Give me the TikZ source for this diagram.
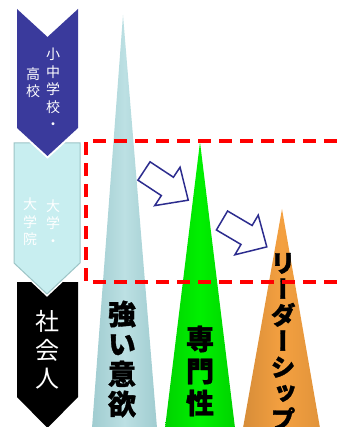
\documentclass[tikz,border=0pt]{standalone}
\usepackage{fontspec}
\usepackage{graphicx}
\newfontfamily\jpv[RawFeature=+vert]{Noto Sans CJK JP}
\newfontfamily\jpb[RawFeature=+vert, BoldFeatures={FakeBold=1.2}]{Noto Sans CJK JP}
\definecolor{chevblue}{HTML}{3A3A9C}
\definecolor{chevcyan}{HTML}{C8EEF0}
\definecolor{chevedge}{HTML}{9CC4C6}
\definecolor{spire}{HTML}{BCE0E3}
\definecolor{spireedge}{HTML}{A0CCD0}
\definecolor{greenspire}{HTML}{00F000}
\definecolor{orangespire}{HTML}{F4A040}
\definecolor{arrowblue}{HTML}{2C2C8E}
\definecolor{dashred}{HTML}{FF0000}
\begin{document}
\begin{tikzpicture}[x=1pt,y=-1pt,
  chevtext/.style={text=white, inner sep=0, align=center, font=\jpv\fontsize{14}{17.5}\selectfont},
  bigtext/.style={text=black, inner sep=0, align=center},
  blockarrow/.style={draw=arrowblue, fill=white, line width=1.5, line join=miter},
  redbox/.style={draw=dashred, line width=3.2, dash pattern=on 12.5 off 8.5, dash phase=18.8}]
\useasboundingbox (0,0) rectangle (344,427);
\clip (0,0) rectangle (344,427);

% ---- chevrons (bottom first)
\fill[black] (17,282) -- (78,282) -- (78,397) -- (47.5,428) -- (17,397) -- cycle;
\draw[white, line width=4] (14,143) -- (80,143) -- (80,263) -- (47,294) -- (14,263) -- cycle;
\fill[chevcyan] (14,143) -- (80,143) -- (80,263) -- (47,294) -- (14,263) -- cycle;
\draw[chevedge, line width=1] (14,143) -- (80,143) -- (80,263) -- (47,294) -- (14,263) -- cycle;
\draw[white, line width=4] (17,9) -- (47.5,37) -- (78,9) -- (78,128) -- (47.5,156) -- (17,128) -- cycle;
\fill[chevblue] (17,9) -- (47.5,37) -- (78,9) -- (78,128) -- (47.5,156) -- (17,128) -- cycle;

% ---- spires
\shade[left color=spireedge, right color=spireedge, middle color=spire]
  (123,15) -- (157,428) -- (92,428) -- cycle;
\shade[left color=greenspire!88!black, right color=greenspire!88!black, middle color=greenspire]
  (200,142) -- (235,428) -- (165,428) -- cycle;
\shade[left color=orangespire!88!black, right color=orangespire!92!black, middle color=orangespire]
  (282,209) -- (320,428) -- (243,428) -- cycle;

% ---- chevron texts
\node[chevtext] (t1r) at (53,89) {小\\中\\学\\校\\・};
\node[chevtext] (t1l) at (33,82.5) {高\\校};
\node[chevtext] (t2r) at (53,223) {大\\学\\・};
\node[chevtext] (t2l) at (30,222) {大\\学\\院};
\node[chevtext, font=\jpv\fontsize{24}{28.5}\selectfont] (t3) at (47,350) {社\\会\\人};

% ---- spire texts
\node[bigtext, font=\jpb\bfseries\fontsize{28}{30}\selectfont] (will) at (122,359) {強\\い\\意\\欲};
\node[bigtext, font=\jpb\bfseries\fontsize{28}{32}\selectfont] (expert) at (200,371) {専\\門\\性};
\node[bigtext, font=\jpb\bfseries\fontsize{25}{26}\selectfont] (leader) at (283,341.5) {リ\\ー\\ダ\\ー\\シ\\ッ\\プ};

% ---- dashed frame
\draw[redbox] (360,141) -- (86,141) -- (86,282) -- (360,282);

% ---- block arrows
\begin{scope}[shift={(144,171)}, rotate=-33.4]
  \draw[blockarrow] (0,-11) -- (28,-11) -- (28,-23) -- (53,0) -- (28,23) -- (28,11) -- (0,11) -- cycle;
\end{scope}
\begin{scope}[shift={(222,220.5)}, rotate=-30.5]
  \draw[blockarrow] (0,-11) -- (28.5,-11) -- (28.5,-23) -- (52,0) -- (28.5,23) -- (28.5,11) -- (0,11) -- cycle;
\end{scope}
\end{tikzpicture}
\end{document}
